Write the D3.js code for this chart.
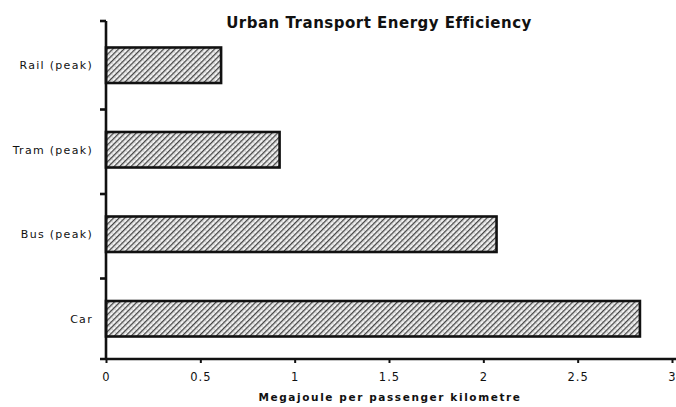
<!DOCTYPE html>
<html>
<head>
<meta charset="utf-8">
<script src="https://cdn.jsdelivr.net/npm/d3@7"></script>
<style>
  body { margin: 0; background: #fff; }
  svg { display: block; }
  text { font-family: "DejaVu Sans", Arial, sans-serif; fill: #111; }
</style>
</head>
<body>
<div id="wrapper"></div>
<script>
// chart data
const categories = ["Rail (peak)", "Tram (peak)", "Bus (peak)", "Car"];
const energyValues = [0.61, 0.92, 2.07, 2.83];
const xTickValues = [0, 0.5, 1, 1.5, 2, 2.5, 3];
const chartTitle = "Urban Transport Energy Efficiency";
const xAxisTitle = "Megajoule per passenger kilometre";

const dataset = categories.map((c, i) => ({ name: c, value: energyValues[i] }));

let dimensions = {
    width: 676,
    height: 407,
    margins: { top: 21, right: 2, bottom: 48, left: 106 }
};
dimensions.boundedWidth = dimensions.width - dimensions.margins.left - dimensions.margins.right;
dimensions.boundedHeight = dimensions.height - dimensions.margins.top - dimensions.margins.bottom;

const wrapper = d3.select("#wrapper")
    .append("svg")
        .attr("width", dimensions.width)
        .attr("height", dimensions.height);

// hatch + stipple pattern like the old plotter fill
const defs = wrapper.append("defs");
const pattern = defs.append("pattern")
    .attr("id", "hatch")
    .attr("patternUnits", "userSpaceOnUse")
    .attr("width", 4)
    .attr("height", 4)
    .attr("patternTransform", "rotate(45)");
pattern.append("rect").attr("width", 4).attr("height", 4).attr("fill", "#f2f2f2");
pattern.append("rect").attr("x", 0).attr("y", 0).attr("width", 1.3).attr("height", 4).attr("fill", "#444");
pattern.append("rect").attr("x", 2.6).attr("y", 1).attr("width", 0.8).attr("height", 0.8).attr("fill", "#888");

const boundingBox = wrapper.append("g")
    .attr("transform", `translate(${dimensions.margins.left},${dimensions.margins.top})`);

// scales
const xScale = d3.scaleLinear()
    .domain([0, 3])
    .range([0, dimensions.boundedWidth - 2]);
const yScale = d3.scaleBand()
    .domain(categories)
    .range([0, dimensions.boundedHeight])
    .paddingInner(0.58)
    .paddingOuter(0.29);

// bars
boundingBox.selectAll("rect.bar")
    .data(dataset)
    .join("rect")
        .attr("class", "bar")
        .attr("x", xScale(0))
        .attr("y", d => yScale(d.name) + 2)
        .attr("width", d => xScale(d.value) - xScale(0))
        .attr("height", yScale.bandwidth())
        .attr("fill", "url(#hatch)")
        .attr("stroke", "#111")
        .attr("stroke-width", 2.6);

// y axis: ticks sit between the categories
const yLine = boundingBox.append("g");
yLine.append("line")
    .attr("x1", 0).attr("x2", 0)
    .attr("y1", 0).attr("y2", dimensions.boundedHeight)
    .attr("stroke", "#111").attr("stroke-width", 2.6);
const step = yScale.step();
const sepPositions = d3.range(categories.length).map(i => yScale(categories[i]) - step * 0.29 + 4);
yLine.selectAll("line.sep")
    .data([0].concat(sepPositions.slice(1)))
    .join("line")
        .attr("class", "sep")
        .attr("x1", -6).attr("x2", 0)
        .attr("y1", d => d).attr("y2", d => d)
        .attr("stroke", "#111").attr("stroke-width", 2.6);

yLine.selectAll("text.cat")
    .data(categories)
    .join("text")
        .attr("class", "cat")
        .attr("x", -13)
        .attr("y", d => yScale(d) + yScale.bandwidth() / 2 + 6)
        .attr("text-anchor", "end")
        .style("font-size", "11px")
        .style("letter-spacing", "1.3px")
        .text(d => d);

// x axis
const xAxisGenerator = d3.axisBottom(xScale)
    .tickValues(xTickValues)
    .tickSize(4)
    .tickFormat(d3.format("~g"));
const xAxis = boundingBox.append("g")
    .attr("transform", `translate(0,${dimensions.boundedHeight})`)
    .call(xAxisGenerator);
xAxis.select(".domain")
    .attr("d", `M-6,0H${dimensions.boundedWidth + 2}`)
    .attr("stroke", "#111")
    .attr("stroke-width", 2.6);
xAxis.selectAll(".tick line").attr("stroke", "#111").attr("stroke-width", 2);
xAxis.selectAll(".tick text")
    .attr("y", 14)
    .style("font-size", "11.5px")
    .style("letter-spacing", "1px")
    .attr("fill", "#111");

// titles
wrapper.append("text")
    .attr("x", 379)
    .attr("y", 28)
    .attr("text-anchor", "middle")
    .style("font-size", "15px")
    .style("font-weight", "bold")
    .style("letter-spacing", "0.5px")
    .attr("fill", "#222")
    .text(chartTitle);

wrapper.append("text")
    .attr("x", dimensions.margins.left + dimensions.boundedWidth / 2)
    .attr("y", 401)
    .attr("text-anchor", "middle")
    .style("font-size", "10.5px")
    .style("font-weight", "bold")
    .style("letter-spacing", "1.6px")
    .attr("fill", "#111")
    .text(xAxisTitle);
</script>
</body>
</html>
